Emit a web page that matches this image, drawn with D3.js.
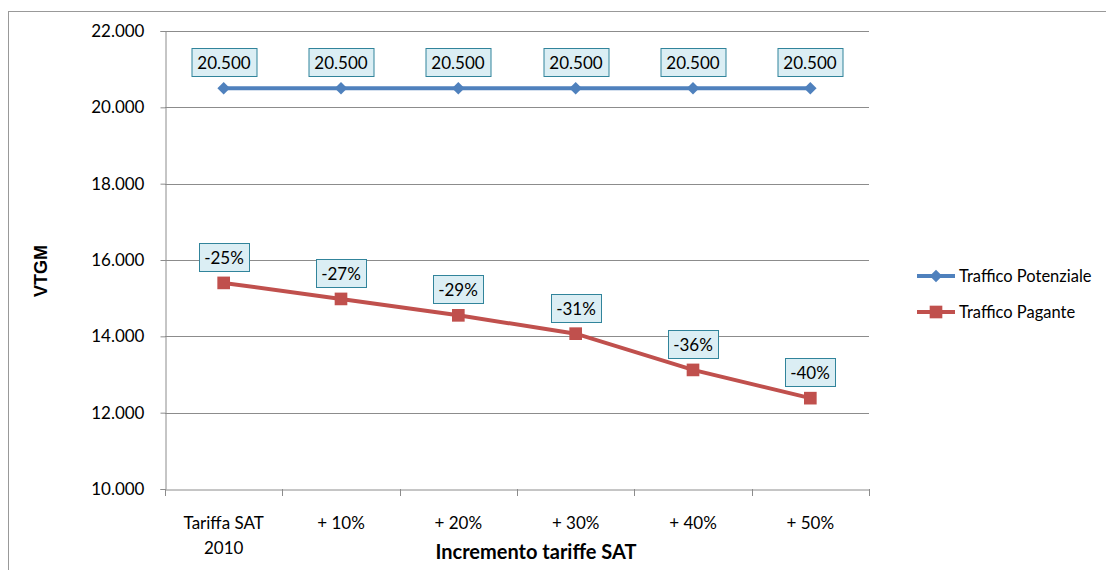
<!DOCTYPE html>
<html>
<head>
<meta charset="utf-8">
<script src="https://cdn.jsdelivr.net/npm/d3@7"></script>
<style>
  body { margin: 0; background: #fff; }
  svg text { font-family: Lato, "Open Sans", sans-serif; fill: #000; }
</style>
</head>
<body>
<script>
// categories and series
var categories = ["Tariffa SAT 2010", "+ 10%", "+ 20%", "+ 30%", "+ 40%", "+ 50%"];
var potenziale = [20500, 20500, 20500, 20500, 20500, 20500];
var pagante = [15400, 14980, 14550, 14070, 13120, 12380];
var paganteLabels = ["-25%", "-27%", "-29%", "-31%", "-36%", "-40%"];
var yTicks = [10000, 12000, 14000, 16000, 18000, 20000, 22000];

var width = 1106,
    height = 570;

var svg = d3.select("body").append("svg")
    .attr("width", width)
    .attr("height", height);

// outer chart frame
svg.append("rect")
    .attr("x", 8.5).attr("y", 11.5)
    .attr("width", width).attr("height", height)
    .attr("fill", "none")
    .attr("stroke", "#999");

var x = d3.scaleBand()
    .domain(categories)
    .range([165, 869]);

var y = d3.scaleLinear()
    .domain([10000, 22000])
    .range([489, 31]);

var fmt = function(d) { return d3.format(",.3f")(d / 1000).replace(",", "."); };

// gridlines
svg.append("g")
    .selectAll("line")
    .data(yTicks.slice(1))
    .join("line")
    .attr("x1", 165).attr("x2", 869)
    .attr("y1", d => Math.round(y(d)) + 0.5)
    .attr("y2", d => Math.round(y(d)) + 0.5)
    .attr("stroke", "#8c8c8c");

// y axis
var yAxis = svg.append("g")
    .attr("transform", "translate(165.5,0)")
    .call(d3.axisLeft(y).tickValues(yTicks).tickSize(5).tickPadding(16).tickFormat(fmt));
yAxis.select(".domain").attr("stroke", "#8c8c8c");
yAxis.selectAll(".tick line").attr("stroke", "#8c8c8c");
yAxis.selectAll("text").attr("font-size", 17).attr("font-family", "Lato, sans-serif");

// x axis
var xAxis = svg.append("g")
    .attr("transform", "translate(0,489.5)")
    .call(d3.axisBottom(x).tickSize(0).tickFormat(""));
xAxis.select(".domain").attr("stroke", "#8c8c8c");

var bounds = categories.map(c => x(c)).concat([x.range()[1]]);
svg.append("g").selectAll("line")
    .data(bounds)
    .join("line")
    .attr("x1", d => Math.round(d) + 0.5).attr("x2", d => Math.round(d) + 0.5)
    .attr("y1", 489).attr("y2", 496)
    .attr("stroke", "#8c8c8c");

svg.append("g").selectAll("text")
    .data(categories)
    .join("text")
    .attr("x", d => x(d) + x.bandwidth() / 2)
    .attr("y", 529)
    .attr("text-anchor", "middle")
    .attr("font-size", 17)
    .each(function(d) {
        var parts = d === "Tariffa SAT 2010" ? ["Tariffa SAT", "2010"] : [d];
        d3.select(this).selectAll("tspan")
            .data(parts)
            .join("tspan")
            .attr("x", x(d) + x.bandwidth() / 2)
            .attr("dy", (p, i) => i ? 25 : 0)
            .text(p => p);
    });

// axis titles
svg.append("text")
    .attr("x", 536).attr("y", 559)
    .attr("text-anchor", "middle")
    .attr("font-size", 20).attr("font-weight", "bold")
    .text("Incremento tariffe SAT");

svg.append("text")
    .attr("transform", "translate(47,271) rotate(-90)")
    .attr("text-anchor", "middle")
    .style("font-family", "'Liberation Sans', Arial, sans-serif")
    .attr("font-size", 18).attr("font-weight", "bold")
    .text("VTGM");

var cx = (d, i) => x(categories[i]) + x.bandwidth() / 2;
var line = d3.line().x((d, i) => cx(d, i)).y(d => y(d));

var blue = "#4f81bd", red = "#c0504d";

svg.append("path").datum(potenziale)
    .attr("d", line).attr("fill", "none")
    .attr("stroke", blue).attr("stroke-width", 4);
svg.append("path").datum(pagante)
    .attr("d", line).attr("fill", "none")
    .attr("stroke", red).attr("stroke-width", 4);

var diamond = d3.symbol().type(d3.symbolDiamond2).size(100);
var square = d3.symbol().type(d3.symbolSquare).size(160);

svg.append("g").selectAll("path")
    .data(potenziale)
    .join("path")
    .attr("transform", (d, i) => "translate(" + cx(d, i) + "," + y(d) + ")")
    .attr("d", diamond)
    .attr("fill", blue);

svg.append("g").selectAll("path")
    .data(pagante)
    .join("path")
    .attr("transform", (d, i) => "translate(" + cx(d, i) + "," + y(d) + ")")
    .attr("d", square)
    .attr("fill", red);

// data labels in boxes
function labels(values, texts, w) {
    var g = svg.append("g").selectAll("g")
        .data(values)
        .join("g")
        .attr("transform", (d, i) => "translate(" + Math.round(cx(d, i)) + "," + Math.round(y(d) - 25) + ")");
    g.append("rect")
        .attr("x", -w / 2 + 0.5).attr("y", -14.5)
        .attr("width", w).attr("height", 28)
        .attr("fill", "#dbeef4")
        .attr("stroke", "#31849b");
    g.append("text")
        .attr("text-anchor", "middle")
        .attr("y", 6)
        .attr("font-size", 17)
        .text((d, i) => texts[i]);
}
labels(potenziale, potenziale.map(fmt), 65);
labels(pagante, paganteLabels, 50);

// legend
var legend = [
    { name: "Traffico Potenziale", color: blue, sym: diamond, y: 276 },
    { name: "Traffico Pagante", color: red, sym: square, y: 312 }
];
var lg = svg.append("g").selectAll("g")
    .data(legend)
    .join("g")
    .attr("transform", d => "translate(917," + d.y + ")");
lg.append("line")
    .attr("x1", 0).attr("x2", 38)
    .attr("stroke", d => d.color).attr("stroke-width", 4);
lg.append("path")
    .attr("transform", "translate(19,0)")
    .attr("d", d => d.sym())
    .attr("fill", d => d.color);
lg.append("text")
    .attr("x", 42).attr("y", 6)
    .attr("font-size", 16.5)
    .text(d => d.name);
</script>
</body>
</html>
